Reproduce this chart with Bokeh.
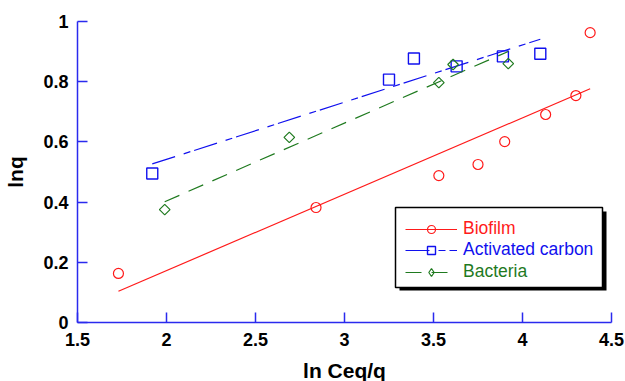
import numpy as np
from bokeh.plotting import figure
from bokeh.models import Legend, LegendItem, BoxAnnotation, Range1d, FixedTicker
from bokeh.embed import file_html
from bokeh.resources import INLINE

# ---- data ----
bio_x = [1.73, 2.84, 3.53, 3.75, 3.90, 4.13, 4.30, 4.38]
bio_y = [0.163, 0.382, 0.488, 0.525, 0.601, 0.691, 0.754, 0.963]
ac_x = [1.92, 3.25, 3.39, 3.63, 3.89, 4.10]
ac_y = [0.495, 0.807, 0.877, 0.851, 0.884, 0.893]
bac_x = [1.99, 2.69, 3.53, 3.61, 3.92]
bac_y = [0.375, 0.615, 0.797, 0.857, 0.860]
x_ticks = [1.5, 2, 2.5, 3, 3.5, 4, 4.5]
y_ticks = [0, 0.2, 0.4, 0.6, 0.8, 1]
labels = ["Biofilm", "Activated carbon", "Bacteria"]

RED = "#ff1a1a"
BLUE = "#1010ee"
GREEN = "#1f7a1f"
AXIS = "#2a2aee"
FONT = "Liberation Sans"


def fit(xs, ys):
    m, b = np.polyfit(xs, ys, 1)
    xx = [min(xs), max(xs)]
    return xx, [m * v + b for v in xx]


p = figure(frame_width=534, frame_height=301,
           x_range=Range1d(1.5, 4.5), y_range=Range1d(0, 1),
           output_backend="svg", toolbar_location=None,
           min_border_left=77, min_border_right=14,
           min_border_top=21, min_border_bottom=59)
p.outline_line_color = None
p.grid.visible = False
p.background_fill_color = "white"
p.border_fill_color = "white"

for ax, ticks in ((p.xaxis, x_ticks), (p.yaxis, y_ticks)):
    ax.ticker = FixedTicker(ticks=ticks)
    ax.major_label_overrides = {t: f"{t:g}" for t in ticks}
    ax.axis_line_color = AXIS
    ax.axis_line_width = 1.5
    ax.major_tick_line_color = AXIS
    ax.major_tick_line_width = 1.5
    ax.major_tick_in = 10
    ax.major_tick_out = 0
    ax.minor_tick_in = 0
    ax.minor_tick_out = 0
    ax.major_label_text_font = FONT
    ax.major_label_text_font_style = "bold"
    ax.major_label_text_font_size = "18px"
    ax.major_label_text_color = "black"
    ax.axis_label_text_font = FONT
    ax.axis_label_text_font_style = "bold"
    ax.axis_label_text_font_size = "21px"
    ax.axis_label_text_color = "black"

p.xaxis.axis_label = "ln Ceq/q"
p.yaxis.axis_label = "lnq"
p.xaxis.major_label_standoff = 10
p.yaxis.major_label_standoff = 9
p.xaxis.axis_label_standoff = 10
p.yaxis.axis_label_standoff = 13

fx, fy = fit(bio_x, bio_y)
l1 = p.line(fx, fy, line_color=RED, line_width=1.2)
s1 = p.scatter(bio_x, bio_y, marker="circle", size=10, fill_color=None,
               line_color=RED, line_width=1.2)

fx, fy = fit(ac_x, ac_y)
l2 = p.line(fx, fy, line_color=BLUE, line_width=1.2, line_dash="24 9 7 4")
s2 = p.scatter(ac_x, ac_y, marker="square", size=11, fill_color=None,
               line_color=BLUE, line_width=1.4)

fx, fy = fit(bac_x, bac_y)
l3 = p.line(fx, fy, line_color=GREEN, line_width=1.2, line_dash="16 10")
s3 = p.scatter(bac_x, bac_y, marker="square", angle=np.pi / 4, size=7.5,
               fill_color=None, line_color=GREEN, line_width=1.2)
# legend-only stand-in for the rotated square (legend ignores angle)
s3_leg = p.scatter(bac_x[:1], bac_y[:1], marker="diamond", size=11,
                   fill_color=None, line_color=GREEN, line_width=1.2,
                   visible=False)

# legend frame with drop shadow
p.add_layout(BoxAnnotation(left=322, right=529, top=111, bottom=32,
                           left_units="screen", right_units="screen",
                           top_units="screen", bottom_units="screen",
                           fill_color="black", fill_alpha=1, line_color=None))
p.add_layout(BoxAnnotation(left=318, right=525, top=115, bottom=35,
                           left_units="screen", right_units="screen",
                           top_units="screen", bottom_units="screen",
                           fill_color="white", fill_alpha=1,
                           line_color="black", line_width=1.5, line_alpha=1))

rows = [(labels[0], [l1, s1], RED, 83),
        (labels[1], [l2, s2], BLUE, 62),
        (labels[2], [l3, s3_leg], GREEN, 40)]
for lab, rends, col, vy in rows:
    leg = Legend(items=[LegendItem(label=lab, renderers=rends)],
                 location=(328, vy), padding=0, margin=0, spacing=0,
                 glyph_width=52, glyph_height=20, label_height=20,
                 label_standoff=6, border_line_alpha=0,
                 background_fill_alpha=0,
                 label_text_font=FONT, label_text_font_size="17.5px",
                 label_text_color=col)
    p.add_layout(leg)

open("out.html", "w").write(file_html(p, INLINE))
